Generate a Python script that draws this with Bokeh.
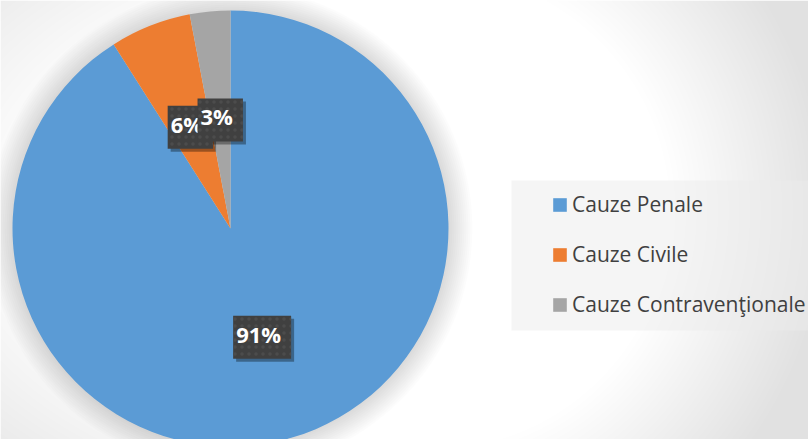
import numpy as np
from bokeh.plotting import figure
from bokeh.models import Range1d, ColumnDataSource, Legend, LegendItem, BoxAnnotation
from bokeh.core.properties import value
from bokeh.embed import file_html
from bokeh.resources import INLINE

# ---- data ----
categories = ["Cauze Penale", "Cauze Civile", "Cauze Contraven\u0163ionale"]
shares = [91, 6, 3]
labels = ["91%", "6%", "3%"]
colors = ["#5B9BD5", "#ED7D31", "#A5A5A5"]
label_radius = [0.52, 0.5, 0.5]   # label distance from centre, fraction of radius

W, H = 808, 439
CX, CY, R = 230, H - 228, 218

p = figure(width=W, height=H, output_backend="svg", toolbar_location=None,
           x_range=Range1d(0, W), y_range=Range1d(0, H), min_border=0,
           border_fill_color="white", outline_line_color=None)
p.axis.visible = False
p.grid.visible = False
p.background_fill_color = "white"

# ---- background gradient (style only) ----
xs = np.arange(W) + 0.5
ys = np.arange(H) + 0.5
X, Y = np.meshgrid(xs, ys)
px = X
py = H - Y
gcx, gcy = 430.0, 210.0
dx = px - gcx
dx = np.where(dx < 0, dx * 0.6, dx)
dy = py - gcy
r = np.sqrt(dx ** 2 + dy ** 2)
t = np.clip((r - 240) / 160.0, 0, 1)
v = (255 - 30 * t).astype(np.uint32)
img = (255 << 24) | (v << 16) | (v << 8) | v
p.image_rgba(image=[img.astype(np.uint32)], x=0, y=0, dw=W, dh=H)

# ---- pie shadow ----
for k in range(12):
    p.circle(x=CX, y=CY, radius=R + 2 + 2 * k, fill_color="black",
             fill_alpha=0.012, line_color=None)

# ---- wedges ----
total = float(sum(shares))
starts, ends, mids = [], [], []
a = np.pi / 2
for s in shares:
    span = 2 * np.pi * s / total
    starts.append(a)
    ends.append(a - span)
    mids.append(a - span / 2)
    a -= span

src = ColumnDataSource(dict(start=starts, end=ends, color=colors, cat=categories))
wr = p.wedge(x=CX, y=CY, radius=R, start_angle="start", end_angle="end",
             direction="clock", fill_color="color", line_color=None, source=src)

# ---- data labels ----
lx = [CX + f * R * np.cos(m) for m, f in zip(mids, label_radius)]
ly = [CY + f * R * np.sin(m) for m, f in zip(mids, label_radius)]
lsrc = ColumnDataSource(dict(x=lx, y=ly, text=labels))
common = dict(x="x", y="y", text="text", source=lsrc, text_align="center",
              text_baseline="middle", text_font=value("Open Sans"),
              text_font_style="bold", text_font_size="22px", padding=[3, 10, 3, 10])
p.text(text_color="black", text_alpha=0, background_fill_color="black",
       background_fill_alpha=0.35, x_offset=3, y_offset=3, **common)
p.text(text_color="white", background_fill_color="#404040",
       background_hatch_pattern="dot", background_hatch_color="#4c4c4c",
       background_hatch_scale=7, **common)

# ---- legend ----
box = BoxAnnotation(left=511, right=W, bottom=H - 330, top=H - 180,
                    fill_color="#ececec", fill_alpha=0.5, line_color=None)
p.add_layout(box)

items = [LegendItem(label=c, renderers=[wr], index=i) for i, c in enumerate(categories)]
legend = Legend(items=items, location=(551, 121), orientation="vertical",
                glyph_width=17, glyph_height=17, label_standoff=4,
                label_height=20, spacing=22, padding=5, margin=0,
                background_fill_alpha=0, border_line_color=None,
                label_text_font="Open Sans", label_text_font_size="21px",
                label_text_color="#404040")
p.add_layout(legend, "center")

open("out.html", "w").write(file_html(p, INLINE))
